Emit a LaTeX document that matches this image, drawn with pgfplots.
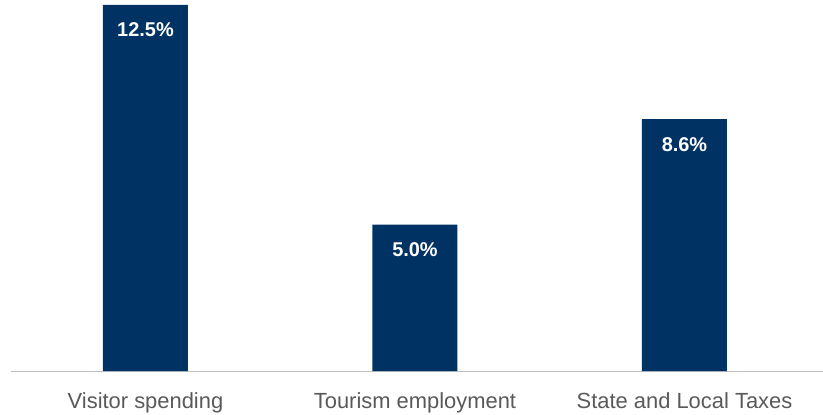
\documentclass[border=0pt]{standalone}
\usepackage{pgfplots}
\pgfplotsset{compat=1.18}
\usepackage{fontspec}
\setmainfont{Liberation Sans}
\definecolor{navy}{RGB}{0,50,100}
\definecolor{lblgray}{RGB}{89,89,89}
\definecolor{axgray}{RGB}{191,191,191}
\begin{document}
\begin{tikzpicture}
\path[use as bounding box] (-10.75bp,-44bp) rectangle (812.25bp,371bp);
\begin{axis}[
  scale only axis,
  width=812.25bp, height=366bp,
  at={(0,0)}, anchor=south west,
  xmin=-0.5, xmax=2.514, ymin=0, ymax=12.5,
  ybar, bar width=85bp,
  axis x line*=bottom,
  hide y axis,
  x axis line style={draw=axgray, line width=0.9bp, -},
  xtick=data,
  xticklabels={Visitor spending, Tourism employment, State and Local Taxes},
  major tick length=0pt,
  xticklabel style={anchor=base, yshift=-37bp, text=lblgray, font=\fontsize{22}{22}\selectfont},
  /pgf/number format/assume math mode=true,
  nodes near coords={\pgfmathprintnumber[fixed,fixed zerofill,precision=1,assume math mode=true]{\pgfplotspointmeta}\%},
  nodes near coords style={anchor=base, yshift=-32bp, text=white, font=\fontsize{20}{20}\selectfont\bfseries},
  clip=false,
]
\addplot[fill=navy, draw=none] coordinates {(0,12.5) (1,5.0) (2,8.6)};
\end{axis}
\end{tikzpicture}
\end{document}
